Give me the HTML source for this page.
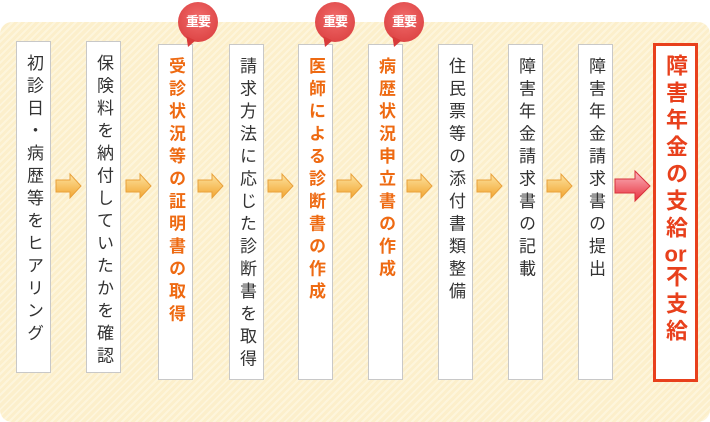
<!DOCTYPE html><html><head><meta charset="utf-8"><style>
body{margin:0;width:710px;height:402px;background:#fff;position:relative;overflow:hidden;font-family:"Liberation Sans","Noto Sans CJK JP",sans-serif}
.bg{position:absolute;left:0;top:22px;width:710px;height:400px;border-radius:12px;background:repeating-linear-gradient(135deg,#fcefcb 0 3px,#fdf5dc 3px 5px)}
.b{position:absolute;background:#fff;border:1px solid #c8c8c8;box-sizing:border-box;writing-mode:vertical-rl;white-space:nowrap;font-size:17px;letter-spacing:5.5px;color:#333;padding-top:12px;line-height:33px;overflow:visible}
.o{color:#ee6a12;font-weight:bold}
.f{position:absolute;left:653px;top:43px;width:45px;height:339px;border:3px solid #e8401c;box-sizing:border-box;background:#fff;writing-mode:vertical-rl;white-space:nowrap;font-size:22px;letter-spacing:5px;color:#e8401c;font-weight:bold;line-height:39px;padding-top:8px}
.f span{text-combine-upright:all}
.bd{position:absolute;width:40px;height:40px;border-radius:50%;background:radial-gradient(circle at 50% 40%,#f06a6a,#d83a3a);color:#fff;font-size:13px;font-weight:bold;text-align:center;line-height:40px;letter-spacing:-1px}
.bd:after{content:"";position:absolute;left:6px;bottom:-5px;border-left:6px solid transparent;border-right:4px solid transparent;border-top:9px solid #d83a3a;transform:rotate(25deg)}
svg{position:absolute}
</style></head><body>
<div class="bg"></div>
<div class="b" style="left:16px;top:41px;width:35px;height:332px">初診日・病歴等をヒアリング</div>
<div class="b" style="left:86px;top:41px;width:35px;height:332px">保険料を納付していたかを確認</div>
<div class="b o" style="left:158px;top:44px;width:35px;height:336px">受診状況等の証明書の取得</div>
<div class="b" style="left:229px;top:44px;width:35px;height:336px">請求方法に応じた診断書を取得</div>
<div class="b o" style="left:298px;top:44px;width:35px;height:336px">医師による診断書の作成</div>
<div class="b o" style="left:368px;top:44px;width:35px;height:336px">病歴状況申立書の作成</div>
<div class="b" style="left:438px;top:44px;width:35px;height:336px">住民票等の添付書類整備</div>
<div class="b" style="left:508px;top:44px;width:35px;height:336px">障害年金請求書の記載</div>
<div class="b" style="left:578px;top:44px;width:35px;height:336px">障害年金請求書の提出</div>
<div class="f">障害年金の支給<span>or</span>不支給</div>
<div class="bd" style="left:178px;top:2px">重要</div>
<div class="bd" style="left:315px;top:2px">重要</div>
<div class="bd" style="left:384px;top:2px">重要</div>
<svg width="710" height="402" style="left:0;top:0">
<defs><linearGradient id="g" x1="0" y1="0" x2="0" y2="1"><stop offset="0" stop-color="#fde3a0"/><stop offset="1" stop-color="#f2a530"/></linearGradient>
<linearGradient id="r" x1="0" y1="0" x2="0" y2="1"><stop offset="0" stop-color="#fbb7c0"/><stop offset="1" stop-color="#e8303c"/></linearGradient></defs>
<g fill="url(#g)" stroke="#e9a13a" stroke-width="1">
<path d="M56 180h14v-6l11 12l-11 12v-6h-14z"/>
<path d="M126 180h14v-6l11 12l-11 12v-6h-14z"/>
<path d="M198 180h14v-6l11 12l-11 12v-6h-14z"/>
<path d="M268 180h14v-6l11 12l-11 12v-6h-14z"/>
<path d="M337 180h14v-6l11 12l-11 12v-6h-14z"/>
<path d="M407 180h14v-6l11 12l-11 12v-6h-14z"/>
<path d="M477 180h14v-6l11 12l-11 12v-6h-14z"/>
<path d="M547 180h14v-6l11 12l-11 12v-6h-14z"/>
</g>
<path d="M615 179h20v-8l15 15l-15 15v-8h-20z" fill="url(#r)" stroke="#d8303c"/>
</svg>
</body></html>
